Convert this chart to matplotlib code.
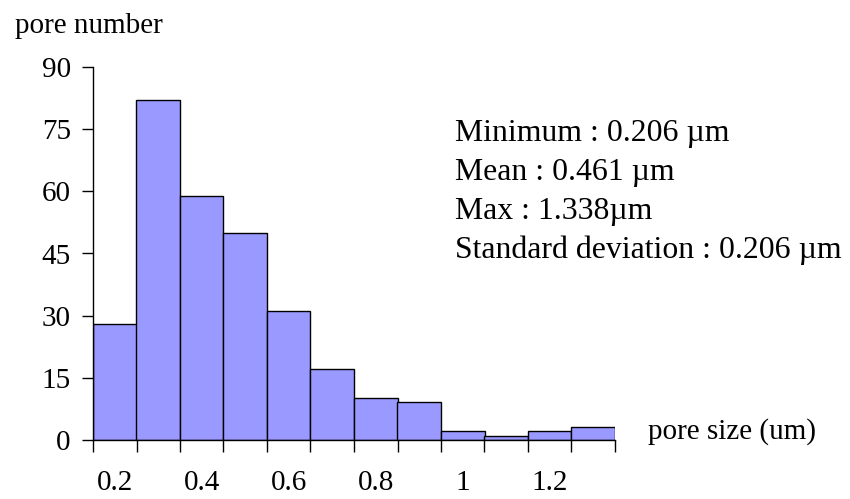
import numpy as np
import matplotlib.pyplot as plt
import matplotlib.ticker as mticker

plt.rcParams['font.family'] = ['Liberation Serif', 'DejaVu Serif']

# bin centres (um) and pore counts
sizes = [0.2, 0.3, 0.4, 0.5, 0.6, 0.7, 0.8, 0.9, 1.0, 1.1, 1.2, 1.3]
counts = [28, 82, 59, 50, 31, 17, 10, 9, 2, 1, 2, 3]
x_labels = ["0.2", "0.4", "0.6", "0.8", "1", "1.2"]
y_ticks = [0, 15, 30, 45, 60, 75, 90]
stats = ["Minimum : 0.206 \u00b5m",
         "Mean : 0.461 \u00b5m",
         "Max : 1.338\u00b5m",
         "Standard deviation : 0.206 \u00b5m"]

W, H = 850, 499
fig = plt.figure(figsize=(W / 100, H / 100), dpi=100)
ax = fig.add_axes([93 / W, 1 - 439.7 / H, (615 - 93) / W, (439.7 - 67.3) / H])

ax.bar(sizes, counts, width=0.1, color="#9999ff", edgecolor="black", linewidth=1.0, zorder=2)

ax.set_xlim(sizes[0] - 0.05, sizes[-1] + 0.05)
ax.set_ylim(0, 90)
ax.set_yticks(y_ticks)
ax.tick_params(axis='y', direction='out', length=8, width=1, labelsize=21, pad=8)

# category-style axis: tick marks on bin edges, labels every second bin
edges = np.arange(len(sizes) + 1) * 0.1 + sizes[0] - 0.05
ax.xaxis.set_minor_locator(mticker.FixedLocator(edges))
ax.set_xticks([0.2, 0.4, 0.6, 0.8, 1.0, 1.2])
ax.set_xticklabels(x_labels)
ax.tick_params(axis='x', which='major', length=0, labelsize=21, pad=22)
ax.tick_params(axis='x', which='minor', direction='out', length=8.5, width=1)

for s in ['top', 'right']:
    ax.spines[s].set_visible(False)
for s in ['left', 'bottom']:
    ax.spines[s].set_linewidth(1)

fig.text(15 / W, 1 - 33 / H, "pore number", fontsize=21, va='baseline', ha='left')
fig.text(648 / W, 1 - 438.5 / H, "pore size (um)", fontsize=21, va='baseline', ha='left')

for i, line in enumerate(stats):
    fig.text(455 / W, 1 - (140.7 + 39.2 * i) / H, line, fontsize=22.9, va='baseline', ha='left')

fig.savefig("out.png", dpi=100)
